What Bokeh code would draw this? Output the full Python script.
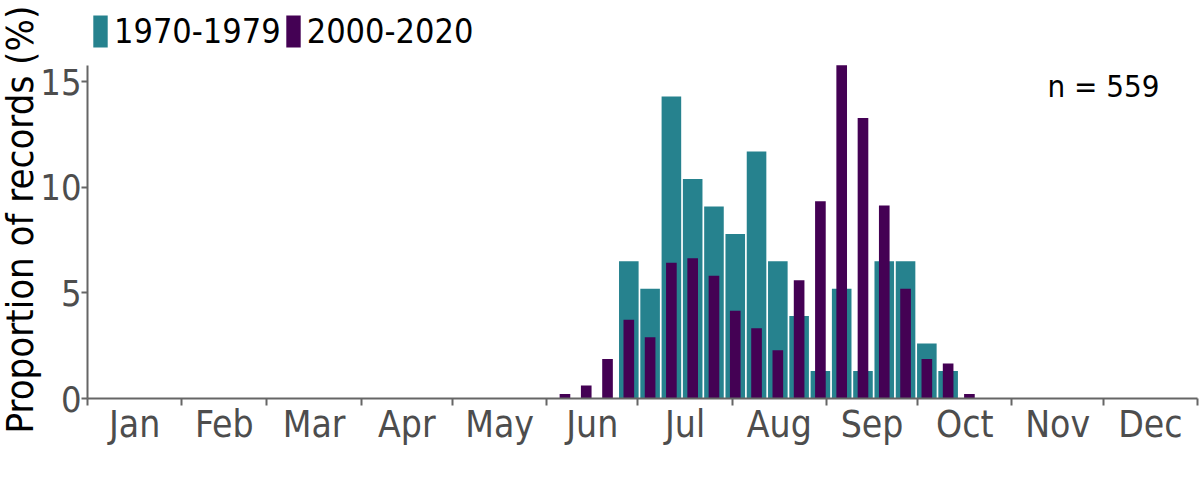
import math
from bokeh.plotting import figure
from bokeh.models import Range1d, FixedTicker, Label, Legend, LegendItem, ColumnDataSource, Title
from bokeh.embed import file_html
from bokeh.resources import INLINE

# ---- data ----
months = ["Jan", "Feb", "Mar", "Apr", "May", "Jun", "Jul", "Aug", "Sep", "Oct", "Nov", "Dec"]
month_days = [31, 28, 31, 30, 31, 30, 31, 31, 30, 31, 30, 31]

weeks_1970 = [26, 27, 28, 29, 30, 31, 32, 33, 34, 35, 36, 37, 38, 39, 40, 41]
pct_1970 = [6.49, 5.19, 14.29, 10.39, 9.09, 7.79, 11.69, 6.49, 3.90, 1.30, 5.19, 1.30, 6.49, 6.49, 2.60, 1.30]

weeks_2000 = [23, 24, 25, 26, 27, 28, 29, 30, 31, 32, 33, 34, 35, 36, 37, 38, 39, 40, 41, 42]
pct_2000 = [0.21, 0.62, 1.87, 3.73, 2.90, 6.43, 6.64, 5.81, 4.15, 3.32, 2.28, 5.60, 9.34, 15.77, 13.28, 9.13, 5.19, 1.87, 1.66, 0.21]

series_labels = ["1970-1979", "2000-2020"]
n_label = "n = 559"
y_title = "Proportion of records (%)"
y_ticks = [0, 5, 10, 15]

TEAL = "#26828E"
PURPLE = "#440154"
AXIS_GREY = "#666666"
TICK_TEXT = "#4d4d4d"
FONT = "DejaVu Sans Condensed"

# month boundaries / mid-points in day-of-year
bounds = [0]
for d in month_days:
    bounds.append(bounds[-1] + d)
mids = [(bounds[i] + bounds[i + 1]) / 2 for i in range(12)]

def week_center(w):
    return 7 * w - 4

src70 = ColumnDataSource(dict(x=[week_center(w) for w in weeks_1970], top=pct_1970))
src00 = ColumnDataSource(dict(x=[week_center(w) for w in weeks_2000], top=pct_2000))

PX_PER_UNIT = 21.13
FRAME_H = 398
FRAME_W = 1110
BOTTOM = 72

p = figure(width=1200, height=FRAME_H + BOTTOM,
           x_range=Range1d(0, 365), y_range=Range1d(0, FRAME_H / PX_PER_UNIT),
           output_backend="svg", toolbar_location=None,
           min_border_left=87, min_border_right=3, min_border_top=0, min_border_bottom=BOTTOM)
p.outline_line_color = None
p.xgrid.visible = False
p.ygrid.visible = False
p.background_fill_color = "white"
p.border_fill_color = "white"

r70 = p.vbar(x="x", top="top", width=7 * 0.92, source=src70, fill_color=TEAL, line_color=None)
r00 = p.vbar(x="x", top="top", width=3.5, source=src00, fill_color=PURPLE, line_color=None)

# x axis
xa = p.xaxis[0]
xa.ticker = FixedTicker(ticks=mids, minor_ticks=bounds)
xa.major_label_overrides = {m: lab for m, lab in zip(mids, months)}
xa.major_tick_out = 0
xa.major_tick_in = 0
xa.minor_tick_out = 7
xa.minor_tick_in = 0
xa.minor_tick_line_color = AXIS_GREY
xa.minor_tick_line_width = 2
xa.axis_line_color = AXIS_GREY
xa.axis_line_width = 2
xa.major_label_text_font = FONT
xa.major_label_text_font_size = "37px"
xa.major_label_text_color = TICK_TEXT
xa.major_label_standoff = -3

# y axis
ya = p.yaxis[0]
ya.ticker = FixedTicker(ticks=y_ticks, minor_ticks=[])
ya.bounds = (0, max(pct_2000 + pct_1970))
ya.major_tick_out = 6
ya.major_tick_in = 0
ya.major_tick_line_color = AXIS_GREY
ya.major_tick_line_width = 2
ya.axis_line_color = AXIS_GREY
ya.axis_line_width = 2
ya.major_label_text_font = FONT
ya.major_label_text_font_size = "36px"
ya.major_label_text_color = TICK_TEXT
ya.major_label_standoff = 0

# y title as a left-side title, starting below the frame bottom like the reference
ytitle = Title(text=y_title, align="left", offset=-35, standoff=-9,
               text_font=FONT, text_font_size="38px", text_font_style="normal",
               text_color="black")
p.add_layout(ytitle, "left")

days_per_px = 365 / FRAME_W

nlab = Label(x=(1047 - 87) * days_per_px, y=(FRAME_H - 85) / PX_PER_UNIT, text=n_label,
             text_align="left", text_baseline="middle",
             text_font=FONT, text_font_size="31px", text_color="black")
p.add_layout(nlab)

legend = Legend(items=[LegendItem(label=series_labels[0], renderers=[r70]),
                       LegendItem(label=series_labels[1], renderers=[r00])],
                orientation="horizontal", location=(4, 347), margin=0, padding=0,
                spacing=3, label_standoff=5, glyph_width=18, glyph_height=40,
                label_text_font=FONT, label_text_font_size="34px", label_text_color="black",
                border_line_color=None, background_fill_alpha=0)
p.add_layout(legend)

open("out.html", "w").write(file_html(p, INLINE))
